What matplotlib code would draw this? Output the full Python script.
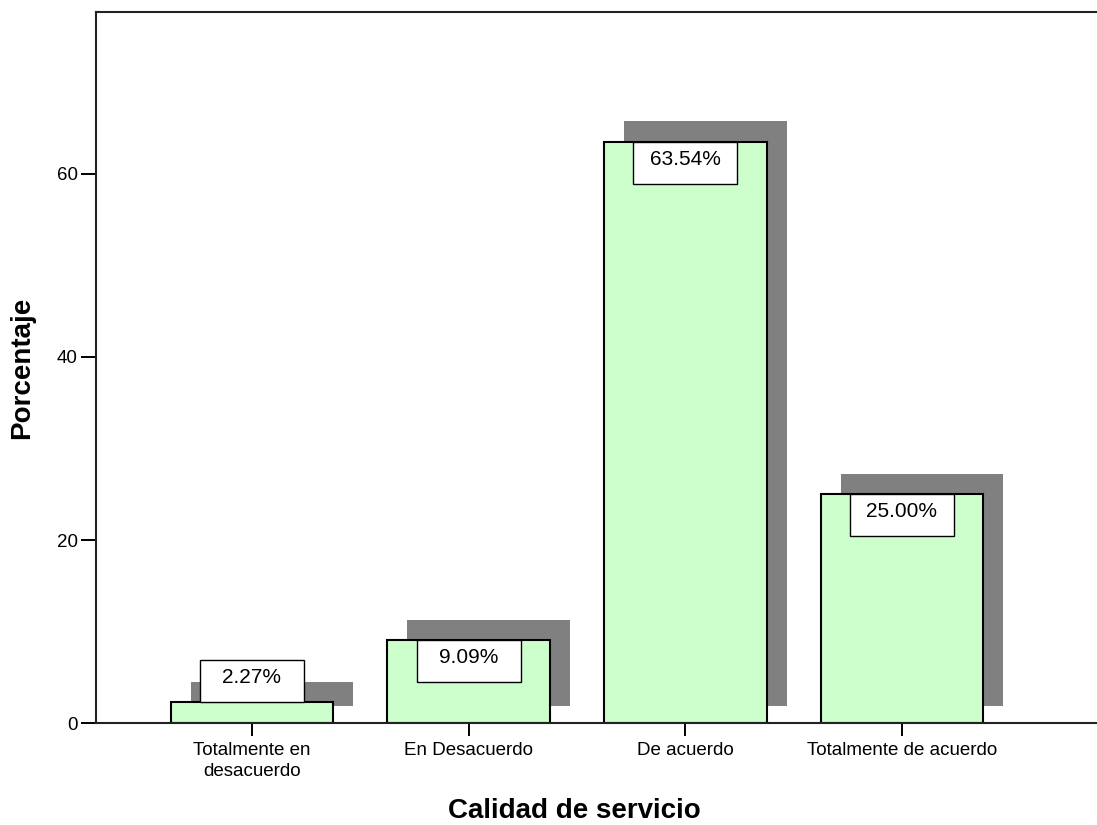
import matplotlib.pyplot as plt
from matplotlib.patches import Rectangle

plt.rcParams['font.family'] = ['Liberation Sans', 'DejaVu Sans']

# Calidad de servicio - porcentajes
categorias = ['Totalmente en\ndesacuerdo', 'En Desacuerdo', 'De acuerdo', 'Totalmente de acuerdo']
porcentajes = [2.27, 9.09, 63.54, 25.00]
yticks = [0, 20, 40, 60]

ancho = 0.75
sombra_dx, sombra_dy, sombra_base = 0.092, 2.2, 1.9
caja_w, caja_h = 0.48, 4.6

fig = plt.figure(figsize=(10.97, 8.25), dpi=100)
ax = fig.add_axes([0.0875, 0.1236, 0.9125, 0.8619])

for i, v in enumerate(porcentajes):
    x0 = i - ancho / 2
    # sombra gris desplazada
    ax.add_patch(Rectangle((x0 + sombra_dx, sombra_base), ancho, v + sombra_dy - sombra_base,
                           facecolor='#808080', edgecolor='none', zorder=1))
    ax.bar(i, v, width=ancho, color='#ccffcc', edgecolor='black', linewidth=1.5, zorder=2)

    # caja con el porcentaje
    if v >= caja_h:
        yb = v - caja_h
    else:
        yb = v
    ax.add_patch(Rectangle((i - caja_w / 2, yb), caja_w, caja_h, facecolor='white',
                           edgecolor='black', linewidth=1.0, zorder=3))
    ax.text(i, yb + caja_h * 0.58, f'{v:.2f}%', ha='center', va='center', fontsize=15,
            color='black', zorder=4)

ax.set_xlim(-0.72, 3.9)
ax.set_ylim(0, 77.7)
ax.set_xticks(range(len(categorias)))
ax.set_xticklabels(categorias, fontsize=13.5, linespacing=1.25)
ax.set_yticks(yticks)
ax.tick_params(axis='y', labelsize=13.5, length=11, width=1.4, pad=2)
ax.tick_params(axis='x', length=9, width=1.4, pad=5)

for s in ['left', 'top', 'bottom']:
    ax.spines[s].set_linewidth(1.5)
    ax.spines[s].set_color('#222222')
ax.spines['right'].set_visible(False)

ax.set_xlabel('Calidad de servicio', fontsize=20, fontweight='bold')
ax.xaxis.set_label_coords(0.478, -0.106)
ax.set_ylabel('Porcentaje', fontsize=20, fontweight='bold', labelpad=16)

fig.savefig('out.png', dpi=100)
